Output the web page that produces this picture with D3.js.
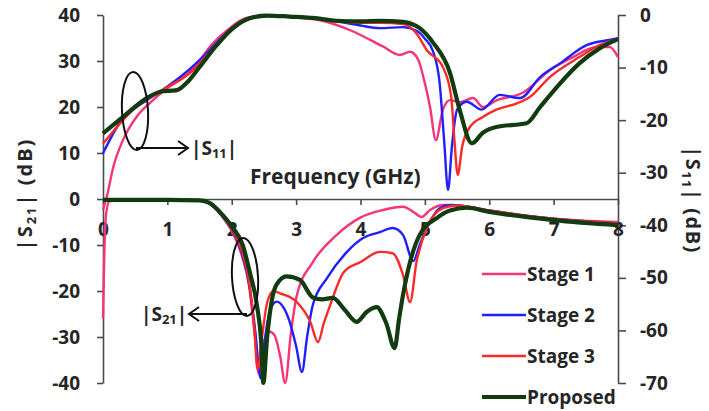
<!DOCTYPE html>
<html>
<head>
<meta charset="utf-8">
<script src="https://cdn.jsdelivr.net/npm/d3@7"></script>
<style>
  body { margin: 0; background: #fff; }
  svg { display: block; }
  text { font-family: "Open Sans", "DejaVu Sans", sans-serif; font-weight: bold; fill: #262626; }
</style>
</head>
<body>
<div id="chart"></div>
<script>
// tick values
var freqTicks = [0, 1, 2, 3, 4, 5, 6, 7, 8];
var s21Ticks = [-40, -30, -20, -10, 0, 10, 20, 30, 40];
var s11Ticks = [-70, -60, -50, -40, -30, -20, -10, 0];

var seriesNames = ["Stage 1", "Stage 2", "Stage 3", "Proposed"];

// |S11| (right axis), [GHz, dB]
var stage1S11 = [[0,-37],[0.06,-34.5],[0.16,-28.9],[0.31,-23.8],[0.52,-19.4],[0.73,-16.7],[1.0,-13.9],[1.3,-11.4],[1.5,-8.6],[1.7,-5.5],[1.93,-2.9],[2.28,-0.4],[2.6,-0.2],[3.0,-0.5],[3.37,-1.0],[3.84,-2.9],[4.35,-6.0],[4.61,-7.6],[4.77,-7.0],[4.9,-8.6],[5.0,-13],[5.08,-17.5],[5.17,-23.8],[5.28,-18],[5.39,-16.2],[5.54,-16.6],[5.75,-15.8],[5.9,-17.5],[6.12,-16.2],[6.52,-14.8],[6.94,-10.5],[7.3,-8],[7.67,-6.1],[7.87,-6.1],[8.0,-8]];
var stage2S11 = [[0,-26.3],[0.26,-20.5],[0.68,-16.2],[1.0,-13.6],[1.2,-11.8],[1.5,-8.6],[1.77,-5.2],[2.02,-2.3],[2.28,-0.5],[2.55,-0.1],[2.9,-0.3],[3.3,-0.6],[3.63,-1.2],[4.0,-2.0],[4.3,-2.5],[4.66,-2.3],[4.87,-3.0],[5.0,-4.5],[5.13,-7],[5.23,-13],[5.3,-24],[5.36,-33.3],[5.42,-25],[5.5,-18],[5.65,-16.5],[5.88,-18],[6.16,-15.2],[6.48,-15.8],[6.79,-11.8],[7.1,-9.2],[7.52,-5.7],[7.83,-4.8],[8,-4.4]];
var stage3S11 = [[0,-24.5],[0.47,-18],[1.0,-13.7],[1.4,-10.5],[1.5,-9.2],[1.77,-5.5],[2.02,-2.4],[2.28,-0.5],[2.55,-0.1],[2.9,-0.3],[3.3,-0.6],[3.63,-1.1],[4.0,-1.5],[4.3,-1.5],[4.66,-1.7],[4.87,-3.5],[5.03,-6.7],[5.28,-9.9],[5.41,-15.6],[5.46,-24],[5.51,-30.4],[5.58,-25],[5.7,-21.3],[5.9,-19.4],[6.11,-18],[6.43,-16.8],[6.63,-15.6],[6.94,-11.8],[7.4,-8],[7.72,-5.7],[8,-4.6]];
var proposedS11 = [[0,-22.5],[0.31,-19.4],[0.68,-15.8],[0.89,-14.6],[1.15,-14.3],[1.3,-12.9],[1.5,-9.9],[1.77,-5.7],[2.02,-2.5],[2.28,-0.6],[2.55,-0.1],[2.9,-0.3],[3.3,-0.6],[3.63,-1.1],[4.0,-1.2],[4.3,-1.1],[4.66,-1.3],[4.92,-2.5],[5.13,-5.3],[5.39,-11],[5.54,-18],[5.73,-24.4],[5.9,-22.4],[6.11,-21.3],[6.58,-20.6],[6.79,-17.5],[7.05,-13.7],[7.4,-9.2],[7.72,-6.3],[8,-4.6]];

// |S21| (left axis), [GHz, dB]
var stage1S21 = [[0,-26],[0.02,-12],[0.05,-3],[0.1,-0.5],[0.3,-0.2],[1.5,-0.3],[1.66,-1.1],[1.86,-4],[2.02,-7.5],[2.15,-12],[2.27,-19],[2.36,-30],[2.42,-38],[2.5,-31],[2.58,-28.8],[2.66,-29.5],[2.75,-34],[2.83,-40],[2.92,-29],[3.01,-21],[3.26,-13.7],[3.63,-7.8],[3.99,-4.1],[4.35,-2.4],[4.66,-1.7],[4.82,-2.8],[4.95,-3.9],[5.08,-2.4],[5.28,-1.3],[5.5,-1.4],[6.0,-2.5],[7.0,-4.3],[8,-5.0]];
var stage2S21 = [[0,-0.2],[1.5,-0.3],[1.66,-1],[1.86,-3.8],[2.02,-7],[2.15,-11.5],[2.27,-18.5],[2.36,-28],[2.45,-39],[2.52,-30],[2.6,-24],[2.7,-22.3],[2.8,-23.5],[2.9,-26.7],[3.0,-32],[3.09,-37.6],[3.17,-30],[3.26,-23],[3.48,-17.2],[3.79,-11.5],[4.04,-8.5],[4.3,-7.2],[4.5,-6.3],[4.66,-7.8],[4.82,-13.5],[4.92,-10],[5.03,-6.3],[5.23,-2],[5.39,-1.3],[5.6,-1.5],[6,-2.5],[7,-4.3],[8,-5.3]];
var stage3S21 = [[0,-0.2],[1.5,-0.3],[1.66,-1],[1.86,-3.7],[2.02,-6.8],[2.15,-11],[2.27,-18],[2.35,-28],[2.4,-37],[2.47,-30],[2.55,-22.5],[2.65,-20],[2.75,-20.5],[3.01,-22.4],[3.22,-26.7],[3.34,-31.1],[3.43,-27],[3.53,-23],[3.74,-15.9],[4.0,-13.7],[4.3,-11.5],[4.5,-11.8],[4.66,-16.5],[4.77,-22.4],[4.87,-13.7],[5.03,-6.3],[5.28,-2],[5.5,-1.4],[6,-2.5],[7,-4.3],[8,-5.3]];
var proposedS21 = [[0,-0.2],[1.0,-0.2],[1.5,-0.3],[1.66,-0.9],[1.86,-3.5],[2.02,-6.3],[2.17,-10],[2.28,-15.9],[2.39,-23],[2.46,-31.7],[2.49,-40],[2.55,-30],[2.63,-21.5],[2.7,-18.5],[2.85,-16.8],[3.06,-17.6],[3.26,-21.4],[3.4,-21.8],[3.57,-21.5],[3.75,-24],[3.94,-26.7],[4.1,-24.5],[4.25,-23.5],[4.4,-27],[4.53,-32.4],[4.6,-26],[4.66,-20.9],[4.77,-13.7],[4.92,-7.8],[5.19,-4.1],[5.39,-2.5],[5.65,-1.9],[6.0,-2.8],[7.0,-4.6],[8,-5.7]];

var colors = ["#f5347a", "#1f1fff", "#fb2a2a", "#103c10"];
var widths = [2.4, 2.4, 2.4, 4.2];

var W = 709, H = 411;
var x = d3.scaleLinear().domain([0, 8]).range([103, 618]);
var yL = d3.scaleLinear().domain([-40, 40]).range([383, 15]);
var yR = d3.scaleLinear().domain([-70, 0]).range([383, 15]);

var svg = d3.select("#chart").append("svg")
    .attr("width", W)
    .attr("height", H);

function styleAxis(g) {
    g.select(".domain").attr("stroke", "#4a4a4a").attr("stroke-width", 1.6);
    g.selectAll(".tick line").attr("stroke", "#4a4a4a").attr("stroke-width", 1.6);
    g.selectAll("text")
        .attr("font-family", "'Open Sans', sans-serif")
        .attr("font-weight", "bold")
        .attr("font-size", 19)
        .attr("fill", "#222");
}

// left axis |S21|
svg.append("g")
    .attr("transform", "translate(" + x(0) + ",0)")
    .call(d3.axisLeft(yL).tickValues(s21Ticks).tickSize(6).tickSizeOuter(0).tickPadding(17)
        .tickFormat(function(d){ return String(d); }))
    .call(styleAxis);

// right axis |S11|
svg.append("g")
    .attr("transform", "translate(" + x(8) + ",0)")
    .call(d3.axisRight(yR).tickValues(s11Ticks).tickSize(8).tickSizeOuter(0).tickPadding(14)
        .tickFormat(function(d){ return String(d); }))
    .call(styleAxis);

// frequency axis at S21 = 0
svg.append("g")
    .attr("transform", "translate(0," + yL(0) + ")")
    .call(d3.axisBottom(x).tickValues(freqTicks).tickSize(6).tickSizeOuter(0).tickPadding(18))
    .call(styleAxis);

var line11 = d3.line()
    .x(function(d){ return x(d[0]); })
    .y(function(d){ return yR(d[1]); })
    .curve(d3.curveMonotoneX);
var line21 = d3.line()
    .x(function(d){ return x(d[0]); })
    .y(function(d){ return yL(d[1]); })
    .curve(d3.curveMonotoneX);

var s11 = [stage1S11, stage2S11, stage3S11, proposedS11];
var s21 = [stage1S21, stage2S21, stage3S21, proposedS21];

svg.selectAll(".s11")
    .data(s11)
    .enter().append("path")
    .attr("class", "s11")
    .attr("fill", "none")
    .attr("stroke", function(d, i){ return colors[i]; })
    .attr("stroke-width", function(d, i){ return widths[i]; })
    .attr("d", line11);

svg.selectAll(".s21")
    .data(s21)
    .enter().append("path")
    .attr("class", "s21")
    .attr("fill", "none")
    .attr("stroke", function(d, i){ return colors[i]; })
    .attr("stroke-width", function(d, i){ return widths[i]; })
    .attr("d", line21);

// axis titles
svg.append("text")
    .attr("x", 250).attr("y", 184)
    .attr("font-size", 21)
    .text("Frequency (GHz)");

var lt = svg.append("text")
    .attr("transform", "translate(32,194) rotate(-90)")
    .attr("text-anchor", "middle")
    .attr("font-size", 20)
    .attr("letter-spacing", 2);
lt.append("tspan").text("|S");
lt.append("tspan").attr("font-size", 13).attr("dy", 4).text("21");
lt.append("tspan").attr("dy", -4).text("| (dB)");

var rt = svg.append("text")
    .attr("transform", "translate(686,200) rotate(90)")
    .attr("text-anchor", "middle")
    .attr("font-size", 20)
    .attr("letter-spacing", 1.5);
rt.append("tspan").text("|S");
rt.append("tspan").attr("font-size", 13).attr("dy", 4).text("11");
rt.append("tspan").attr("dy", -4).text("| (dB)");

// annotations
function note(cx, cy, x1, x2, ay, sub, tx, dir) {
    svg.append("ellipse")
        .attr("transform", "translate(" + cx + "," + cy + ") rotate(-3)")
        .attr("rx", 13).attr("ry", 39)
        .attr("fill", "none").attr("stroke", "#111").attr("stroke-width", 2);
    svg.append("line")
        .attr("x1", x1).attr("y1", ay).attr("x2", x2).attr("y2", ay)
        .attr("stroke", "#111").attr("stroke-width", 2);
    svg.append("path")
        .attr("d", "M" + (x2 - dir * 10) + "," + (ay - 7) + "L" + x2 + "," + ay + "L" + (x2 - dir * 10) + "," + (ay + 7))
        .attr("fill", "none").attr("stroke", "#111").attr("stroke-width", 2);
    var t = svg.append("text").attr("x", tx).attr("y", ay + 7).attr("font-size", 19);
    t.append("tspan").text("|S");
    t.append("tspan").attr("font-size", 13).attr("dy", 3).text(sub);
    t.append("tspan").attr("dy", -3).text("|");
}
note(135, 111, 136, 188, 148, "11", 191, 1);
note(245, 277, 247, 189, 314, "21", 141, -1);

// legend
var legendY = [274, 315, 356, 397];
var lg = svg.selectAll(".lg")
    .data(seriesNames)
    .enter().append("g")
    .attr("class", "lg")
    .attr("transform", function(d, i){ return "translate(482," + legendY[i] + ")"; });
lg.append("line")
    .attr("x1", 0).attr("x2", 44)
    .attr("stroke", function(d, i){ return colors[i]; })
    .attr("stroke-width", function(d, i){ return i == 3 ? 4.2 : 2.6; });
lg.append("text")
    .attr("x", 45).attr("dy", "0.35em")
    .attr("font-size", 19)
    .attr("fill", "#2a2a2a")
    .text(function(d){ return d; });
</script>
</body>
</html>
